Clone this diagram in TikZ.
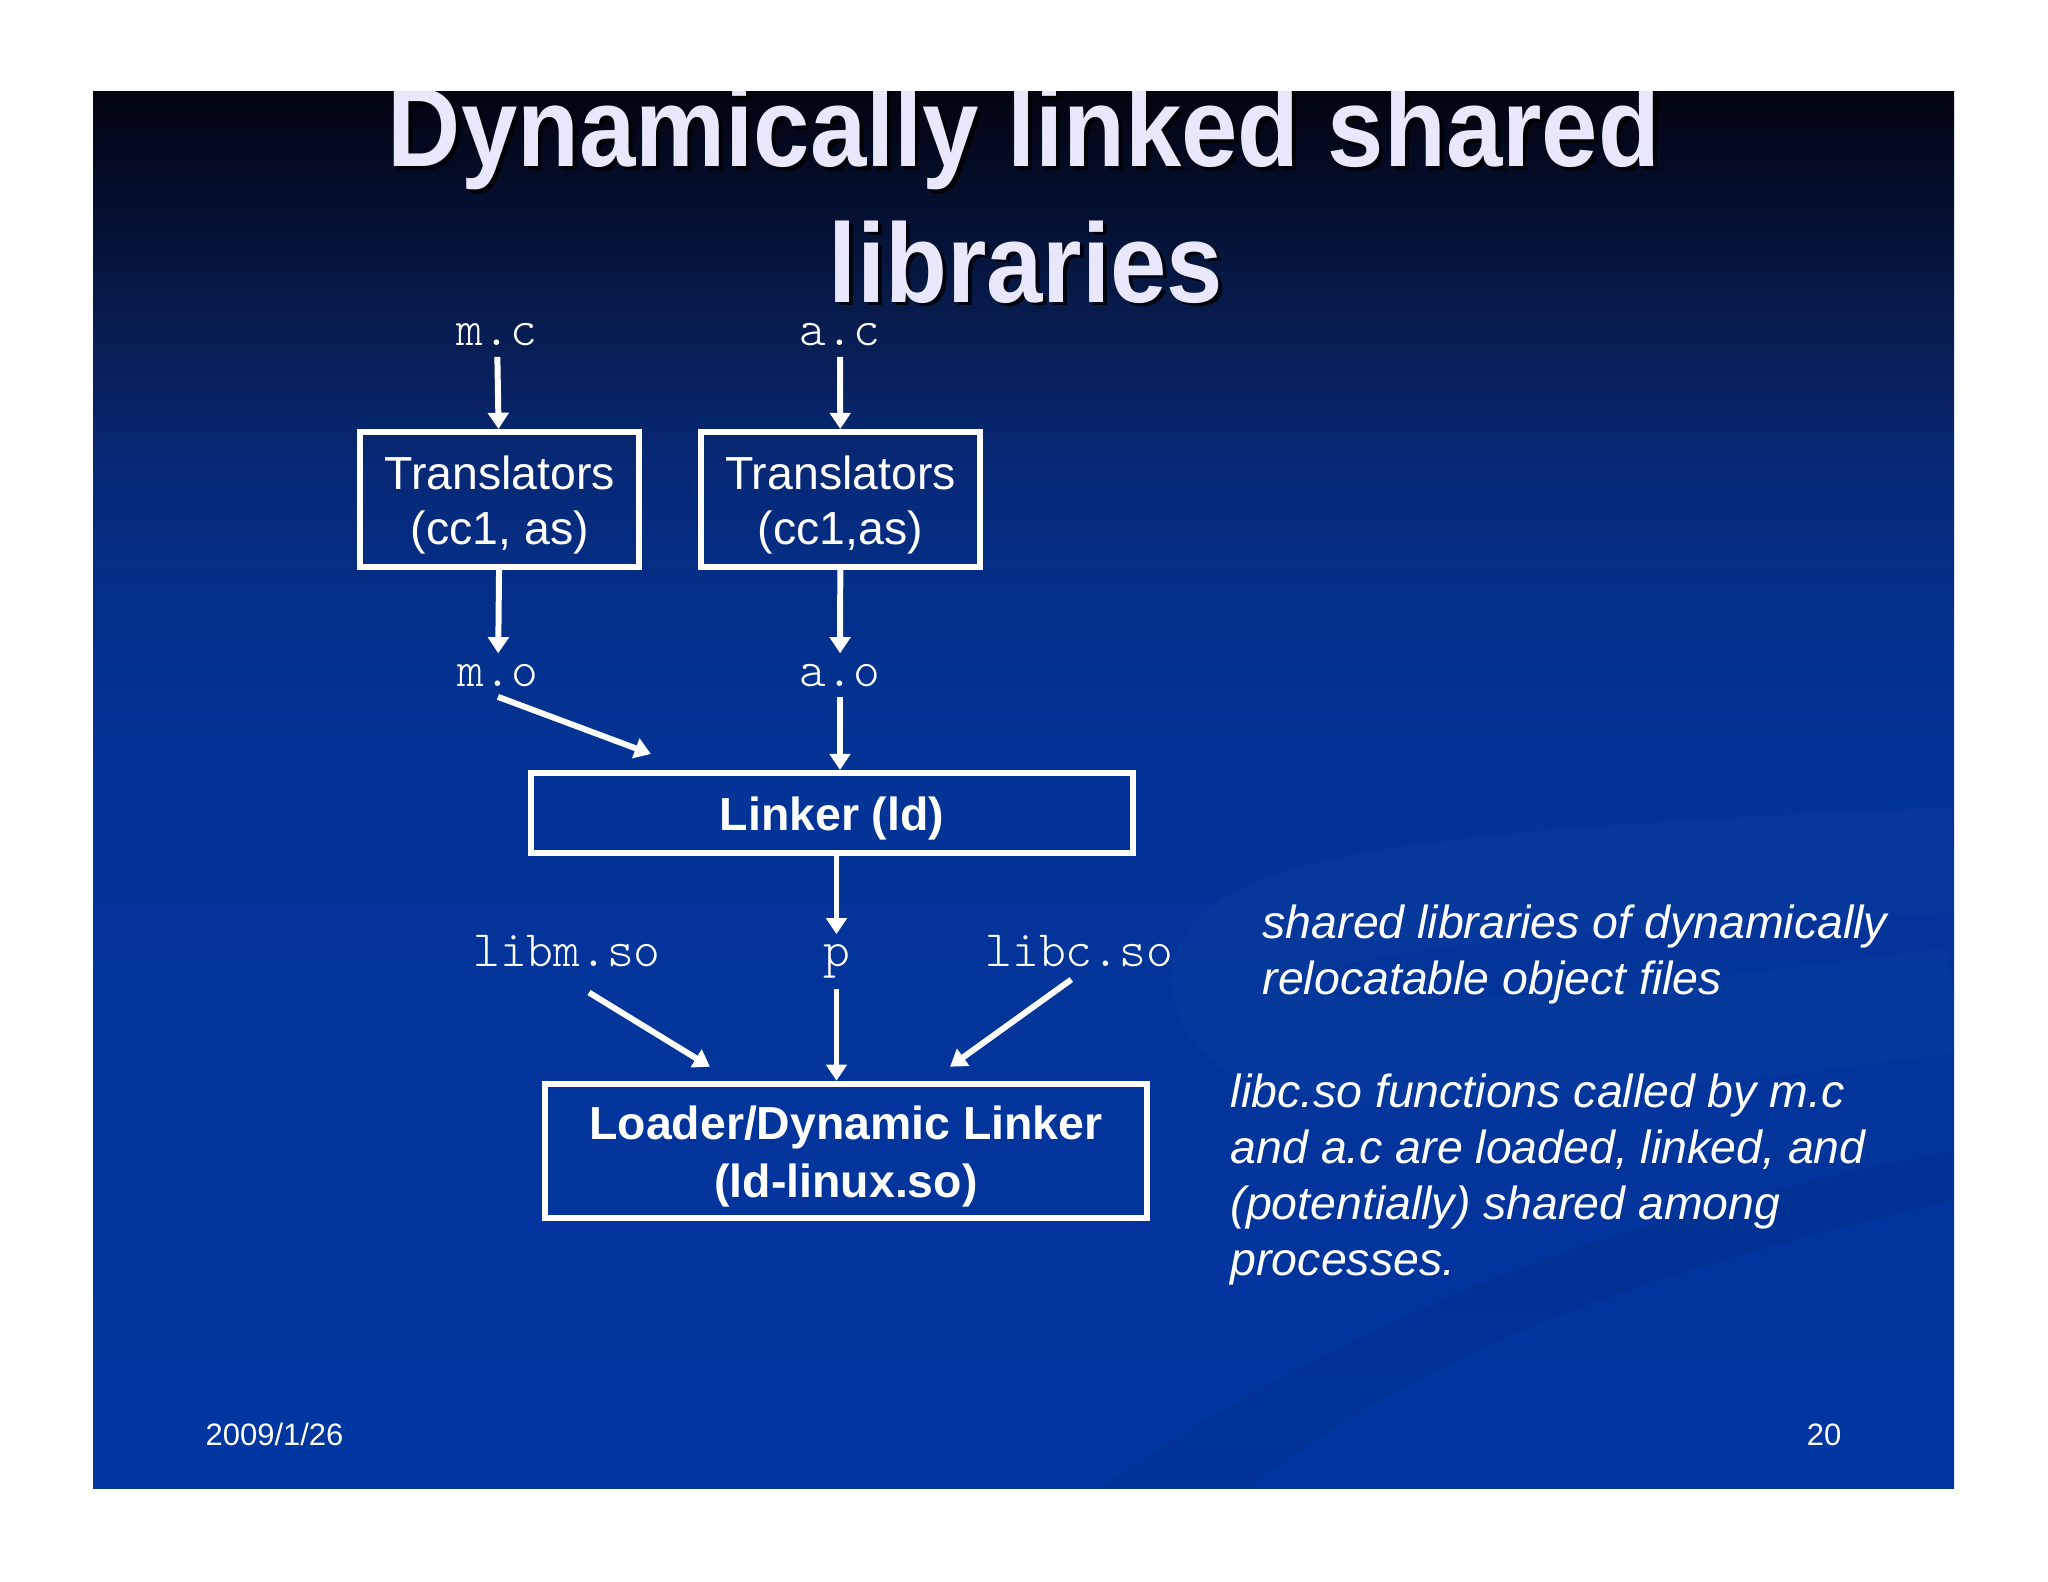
\documentclass[tikz,border=0pt]{standalone}
\usepackage{fontspec}
\setmainfont{Liberation Sans}
\newfontfamily\codefont{Latin Modern Mono Light}
\newfontfamily\titlefont[FakeStretch=0.9]{Liberation Sans}
\usetikzlibrary{arrows.meta}
\definecolor{titlefg}{RGB}{232,232,250}
\definecolor{bgtop}{RGB}{2,4,15}
\definecolor{bgb}{RGB}{4,14,44}
\definecolor{bgc}{RGB}{8,29,80}
\definecolor{bgd}{RGB}{7,40,116}
\definecolor{bge}{RGB}{4,47,136}
\definecolor{bgf}{RGB}{2,52,151}
\definecolor{bgbot}{RGB}{0,54,160}
\pgfdeclareverticalshading{slidebg}{100bp}{color(0bp)=(bgbot); color(25bp)=(bgbot); color(50.2bp)=(bgf); color(57.2bp)=(bge); color(61.9bp)=(bgd); color(66.6bp)=(bgc); color(71.3bp)=(bgb); color(75bp)=(bgtop); color(100bp)=(bgtop)}
\newcommand\boxfont{\fontsize{13.2}{15.9}\selectfont}
\newcommand\topgap{\rule{0pt}{12.7pt}}
\begin{document}
\begin{tikzpicture}[x=0.01cm, y=-0.01cm,
    box/.style={draw=white, line width=1.7pt, text=white, font=\boxfont, align=center, inner sep=0pt},
    lbl/.style={text=white, font=\codefont\fontsize{14.5}{16}\selectfont, inner sep=2.8pt, anchor=base},
    note/.style={text=white, font=\boxfont\itshape, align=left, inner sep=0pt, anchor=north west},
    foot/.style={text=white, font=\fontsize{8.8}{10}\selectfont, inner sep=0pt},
    ttl/.style={font=\titlefont\bfseries\fontsize{32}{38.7}\selectfont, text=titlefg, inner sep=0pt, anchor=base},
    flow/.style={white, line width=1.7pt, -{Triangle[length=4.6pt,width=5.8pt]}}]
    \useasboundingbox (0,0) rectangle (2048,1582);
    \fill[white] (0,0) rectangle (2048,1582);
    \shade[shading=slidebg] (93,92) rectangle (1954,1488);
    \begin{scope}
        \clip (93,92) rectangle (1954,1488);
        \draw[white, opacity=0.02, line width=30pt] (1954,860) .. controls (1500,880) and (1180,900) .. (1230,1000) .. controls (1270,1080) and (1500,1060) .. (1954,1000);
        \fill[black, opacity=0.05] (1100,1488) .. controls (1400,1280) and (1700,1200) .. (1954,1150) -- (1954,1200) .. controls (1700,1260) and (1450,1330) .. (1250,1488) -- cycle;
        \node[ttl, text=black, opacity=0.8] (titleashadow) at (1028,171) {Dynamically linked shared};
        \node[ttl] (titlea) at (1024,167) {Dynamically linked shared};
        \node[ttl, text=black, opacity=0.8] (titlebshadow) at (1030,306) {libraries};
        \node[ttl] (titleb) at (1026,302) {libraries};
    \end{scope}
    \node[lbl] (mc) at (497,346) {m.c};
    \node[lbl] (ac) at (840,346) {a.c};
    \node[box, minimum width=2.785cm, minimum height=1.35cm] (t1) at (499.75,499.5) {\topgap Translators\\(cc1, as)};
    \node[box, minimum width=2.79cm, minimum height=1.35cm] (t2) at (840.5,499.5) {\topgap Translators\\(cc1,as)};
    \node[lbl] (mo) at (498,686) {m.o};
    \node[lbl] (ao) at (840,686) {a.o};
    \node[box, font=\boxfont\bfseries, minimum width=6.02cm, minimum height=0.8cm] (linker) at (832,813) {\topgap Linker (ld)};
    \node[lbl] (libm) at (567,966.7) {libm.so};
    \node[lbl] (p) at (836.5,966.7) {p};
    \node[lbl] (libc) at (1079.3,966.7) {libc.so};
    \node[box, font=\fontsize{13.2}{16.4}\selectfont\bfseries, minimum width=6.02cm, minimum height=1.345cm] (loader) at (846,1151) {\topgap Loader/Dynamic Linker\\(ld-linux.so)};
    \draw[flow] (mc) -- (t1);
    \draw[flow] (ac) -- (t2);
    \draw[flow] (t1) -- (mo);
    \draw[flow] (t2) -- (ao);
    \draw[flow] (mo.south) -- ([xshift=1.23cm,yshift=0.16cm]linker.north west);
    \draw[flow] (ao) -- (ao |- linker.north);
    \draw[flow] (linker.south -| p) -- (p);
    \draw[flow] (p) -- (p |- loader.north);
    \draw[flow] ([xshift=0.22cm,yshift=-0.15cm]libm.south) -- ([xshift=1.68cm,yshift=0.14cm]loader.north west);
    \draw[flow] ([xshift=-0.08cm,yshift=-0.02cm]libc.south) -- ([xshift=-2cm,yshift=0.14cm]loader.north east);
    \node[note] (notea) at (1262,904) {shared libraries of dynamically\\relocatable object files};
    \node[note] (noteb) at (1230,1073) {libc.so functions called by m.c\\and a.c are loaded, linked, and\\(potentially) shared among\\processes.};
    \node[foot, anchor=base west] (date) at (205,1445) {2009/1/26};
    \node[foot, anchor=base east] (page) at (1842,1445) {20};
\end{tikzpicture}
\end{document}
